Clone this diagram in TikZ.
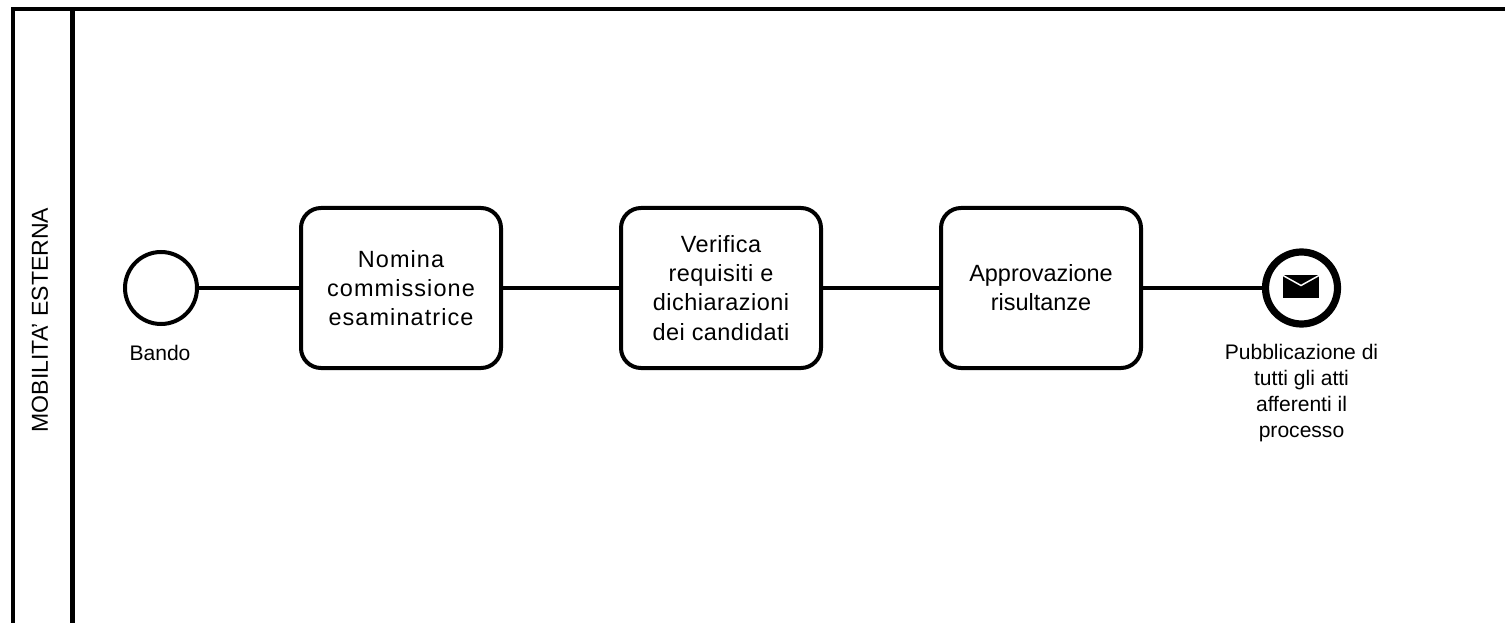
\documentclass[tikz,border=0pt]{standalone}
\usepackage{fontspec}
\setmainfont{Liberation Sans}
\newfontfamily\widea[LetterSpace=4.6]{Liberation Sans}
\newfontfamily\wideb[LetterSpace=2]{Liberation Sans}
\tikzset{
  x=0.75pt,y=-0.75pt,
  ln/.style={line width=3pt,black},
  task/.style={draw=black,line width=3pt,rounded corners=15pt,minimum width=150pt,minimum height=120pt,align=center,font=\fontsize{17.6}{21.9}\selectfont,fill=white,inner sep=0pt},
  startev/.style={circle,draw=black,line width=3pt,minimum size=54pt,inner sep=0pt,fill=white},
  endev/.style={circle,draw=black,line width=5.4pt,minimum size=54pt,inner sep=0pt,fill=white},
  lab/.style={align=center,font=\fontsize{15.8}{19.7}\selectfont,inner sep=0pt},
}
\begin{document}
\begin{tikzpicture}
\useasboundingbox (0,0) rectangle (1505,623);
\fill[white] (0,0) rectangle (1505,623);
\coordinate (pl) at (12.5,623);
\coordinate (ptl) at (12.5,9.5);
\coordinate (ptr) at (1505,9.5);
\coordinate (dt) at (72.5,9.5);
\coordinate (db) at (72.5,623);
\draw[ln,line cap=butt,miter limit=10] (pl) -- (ptl) -- (ptr);
\draw[line width=3.6pt] (dt) -- (db);
\node[rotate=90,font=\fontsize{17.3}{20}\selectfont,inner sep=0pt] (title) at (40,320) {MOBILITA' ESTERNA};
\node[startev] (s) at (161,288) {};
\node[task] (t1) at (401,288) {\widea Nomina\\\widea commissione\\\widea esaminatrice};
\node[task] (t2) at (721,288) {\wideb Verifica\\\wideb requisiti e\\\wideb dichiarazioni\\\wideb dei candidati};
\node[task] (t3) at (1041,288) {Approvazione\\risultanze};
\node[endev] (e) at (1301.5,288) {};
\draw[ln] (s) -- (t1);
\draw[ln] (t1) -- (t2);
\draw[ln] (t2) -- (t3);
\draw[ln] (t3) -- (e);
\fill[black] (1283,275) rectangle (1319,298.5);
\draw[white,line width=1.1pt] (1283,275.5) -- (1301,285.5) -- (1319,275.5);
\node[lab] (lb) at (160,353) {Bando};
\node[lab] (le) at (1301.5,393) {Pubblicazione di\\tutti gli atti\\afferenti il\\processo};
\end{tikzpicture}
\end{document}
